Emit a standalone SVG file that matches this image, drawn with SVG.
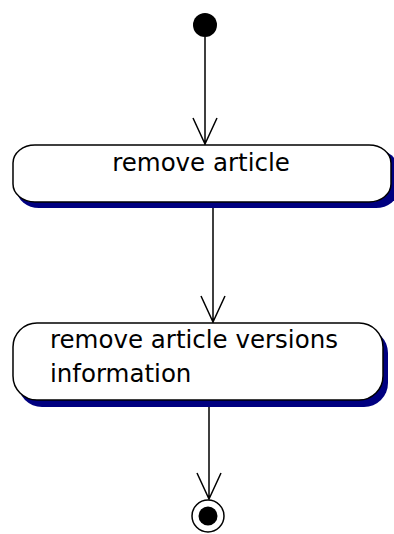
<svg xmlns="http://www.w3.org/2000/svg" width="394" height="534" viewBox="0 0 394 534">
  <style>
    .edge { stroke: #000; stroke-width: 1.5; fill: none; }
    .shadow { fill: #000080; }
    .act { fill: #fff; stroke: #000; stroke-width: 1.5; }
    .label { font-family: "DejaVu Sans", "Liberation Sans", sans-serif; font-size: 24.5px; fill: #000; }
  </style>
  <rect width="394" height="534" fill="#fff"/>

  <g id="connectors">
    <path class="edge" d="M205,37 V145 M193,118 L205,144 L217,118"/>
    <path class="edge" d="M213,208 V323 M201,296 L213,322 L225,296"/>
    <path class="edge" d="M209,407 V499 M197,473 L209,499 L221,473"/>
  </g>

  <g id="start">
    <circle cx="205" cy="25" r="12" fill="#000"/>
  </g>

  <g id="remove-article">
    <rect class="shadow" x="17" y="150" width="381" height="58" rx="22" ry="18"/>
    <rect class="act" x="13" y="145" width="378" height="57" rx="22" ry="18"/>
    <text class="label" x="201" y="171" text-anchor="middle">remove article</text>
  </g>

  <g id="remove-versions">
    <rect class="shadow" x="18" y="329" width="370" height="78" rx="24" ry="24"/>
    <rect class="act" x="13" y="323" width="370" height="77" rx="24" ry="24"/>
    <text class="label" x="50" y="348">remove article versions</text>
    <text class="label" x="50" y="382">information</text>
  </g>

  <g id="end">
    <circle cx="208" cy="516" r="16" fill="#fff" stroke="#000" stroke-width="1.5"/>
    <circle cx="208" cy="516" r="9.5" fill="#000"/>
  </g>
</svg>
